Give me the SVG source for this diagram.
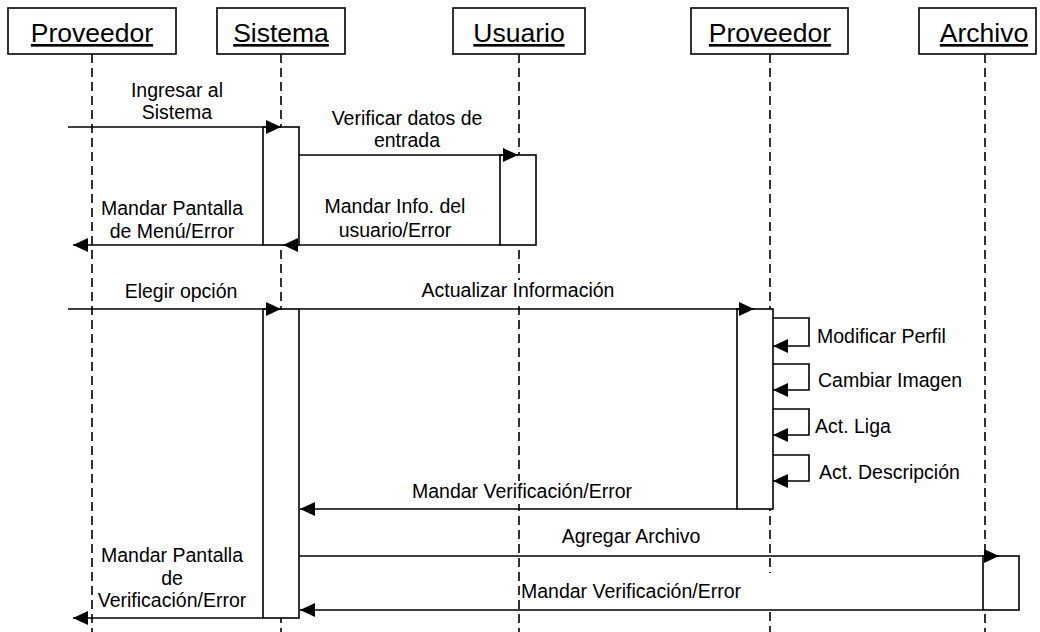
<svg xmlns="http://www.w3.org/2000/svg" width="1040" height="632" viewBox="0 0 1040 632">
  <style>
    .head { fill: #fff; stroke: #000; stroke-width: 1.6; }
    .headtxt { font-family: "Liberation Sans", Arial, sans-serif; font-size: 26.5px; text-anchor: middle; text-decoration: underline; fill: #000; }
    .life { stroke: #000; stroke-width: 1.6; stroke-dasharray: 9 5; fill: none; }
    .act { fill: #fff; stroke: #000; stroke-width: 1.6; }
    .msg { stroke: #000; stroke-width: 1.6; fill: none; marker-end: url(#ah); }
    .lbl { font-family: "Liberation Sans", Arial, sans-serif; font-size: 19.5px; text-anchor: middle; fill: #000; }
    .lbl-l { text-anchor: start; }
    .lblbg { fill: #fff; stroke: none; }
  </style>
  <defs>
    <marker id="ah" viewBox="0 0 15 14" refX="15" refY="7" markerWidth="15" markerHeight="14" markerUnits="userSpaceOnUse" orient="auto">
      <path d="M0,0 L15,7 L0,14 z" fill="#000"/>
    </marker>
  </defs>
  <rect width="1040" height="632" fill="#fff"/>

  <!-- lifelines -->
  <g id="lifelines">
    <line class="life" x1="92" y1="54" x2="92" y2="632"/>
    <line class="life" x1="281" y1="54" x2="281" y2="632"/>
    <line class="life" x1="519" y1="54" x2="519" y2="632"/>
    <line class="life" x1="770" y1="54" x2="770" y2="573"/>
    <line class="life" x1="770" y1="612" x2="770" y2="632"/>
    <line class="life" x1="985" y1="54" x2="985" y2="632"/>
  </g>

  <!-- participants -->
  <g id="proveedor1">
    <rect class="head" x="8" y="8" width="168" height="46"/>
    <text class="headtxt" x="92" y="42">Proveedor</text>
  </g>
  <g id="sistema">
    <rect class="head" x="217" y="8" width="128" height="46"/>
    <text class="headtxt" x="281" y="42">Sistema</text>
  </g>
  <g id="usuario">
    <rect class="head" x="453" y="8" width="132" height="46"/>
    <text class="headtxt" x="519" y="42">Usuario</text>
  </g>
  <g id="proveedor2">
    <rect class="head" x="691" y="8" width="157" height="46"/>
    <text class="headtxt" x="770" y="42">Proveedor</text>
  </g>
  <g id="archivo">
    <rect class="head" x="919" y="8" width="117" height="46"/>
    <text class="headtxt" x="984" y="42">Archivo</text>
  </g>

  <!-- activation bars -->
  <g id="activations">
    <rect id="act-sistema-1" class="act" x="263" y="127" width="36" height="118"/>
    <rect id="act-usuario" class="act" x="500" y="155" width="36" height="90"/>
    <rect id="act-sistema-2" class="act" x="263" y="309" width="36" height="309"/>
    <rect id="act-proveedor2" class="act" x="737" y="309" width="36" height="200"/>
    <rect id="act-archivo" class="act" x="983" y="556" width="36" height="54"/>
  </g>

  <!-- messages -->
  <g id="connectors">
    <path class="msg" d="M68,127 H281"/>
    <path class="msg" d="M299,155 H518"/>
    <path class="msg" d="M500,245 H283"/>
    <path class="msg" d="M263,245 H73"/>
    <path class="msg" d="M68,309 H281"/>
    <path class="msg" d="M299,309 H754"/>
    <path class="msg" d="M773,318 H809 V346 H773"/>
    <path class="msg" d="M773,364 H809 V390 H773"/>
    <path class="msg" d="M773,409 H809 V435 H773"/>
    <path class="msg" d="M773,455 H809 V481 H773"/>
    <path class="msg" d="M737,509 H300"/>
    <path class="msg" d="M299,556 H999"/>
    <path class="msg" d="M983,610 H300"/>
    <path class="msg" d="M263,618 H73"/>
  </g>

  <!-- message labels -->
  <g id="labels">
    <text class="lbl" x="177" y="97">Ingresar al</text>
    <text class="lbl" x="177" y="119">Sistema</text>
    <text class="lbl" x="407" y="125">Verificar datos de</text>
    <text class="lbl" x="407" y="147">entrada</text>
    <text class="lbl" x="395" y="213">Mandar Info. del</text>
    <text class="lbl" x="395" y="237">usuario/Error</text>
    <text class="lbl" x="172" y="215">Mandar Pantalla</text>
    <text class="lbl" x="172" y="238">de Menú/Error</text>
    <text class="lbl" x="181" y="298">Elegir opción</text>
    <rect class="lblbg" x="417" y="280" width="202" height="23"/>
    <text class="lbl" x="518" y="297">Actualizar Información</text>
    <text class="lbl lbl-l" x="817" y="343">Modificar Perfil</text>
    <text class="lbl lbl-l" x="818" y="387">Cambiar Imagen</text>
    <text class="lbl lbl-l" x="815" y="433">Act. Liga</text>
    <text class="lbl lbl-l" x="819" y="479">Act. Descripción</text>
    <rect class="lblbg" x="407" y="481" width="230" height="23"/>
    <text class="lbl" x="522" y="498">Mandar Verificación/Error</text>
    <text class="lbl" x="631" y="543">Agregar Archivo</text>
    <text class="lbl" x="631" y="598">Mandar Verificación/Error</text>
    <text class="lbl" x="172" y="562">Mandar Pantalla</text>
    <text class="lbl" x="172" y="585">de</text>
    <text class="lbl" x="172" y="607">Verificación/Error</text>
  </g>
</svg>
